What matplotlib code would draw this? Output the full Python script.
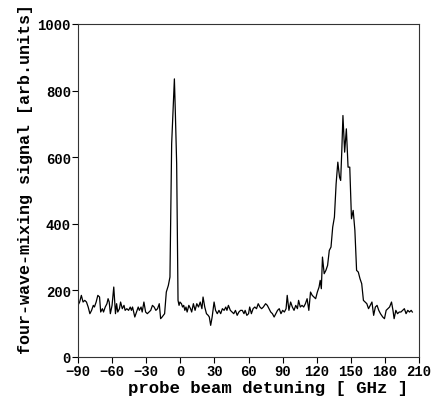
import matplotlib
matplotlib.use("Agg")
import matplotlib.pyplot as plt

# detuning (GHz) and four-wave-mixing signal (arb. units)
detuning = [
    -90, -88.5, -87, -85.5, -84, -82.5, -81, -79.5, -78, -76.5, -75.5, -74,
    -72.5, -71, -70, -68.5, -67.5, -66, -64.5, -63.5, -62.5, -61.5, -60, -58.5,
    -57, -56, -55, -53.5, -52.5, -51, -49.5, -48.5, -47, -45.5, -44, -43, -42,
    -40, -38.5, -37, -36, -34.5, -33.5, -32, -30.5, -29, -27.5, -26, -24.5,
    -23, -21.5, -20, -18.5, -17.3, -16, -14.9, -13.8, -12.3, -10.5, -9.1, -7.6,
    -6.4, -5.2, -4.4, -3.2, -2.0, -1.1, -0.3, 1, 2, 3, 4, 5, 6, 7.5, 9, 10,
    11.5, 13, 14.5, 16, 17.5, 19, 20, 21.5, 23, 24.5, 25.5, 26.7, 28, 29.7, 31,
    32.5, 34, 35.5, 37, 38.5, 40, 41, 42.3, 44, 45.5, 47, 48.5, 50, 51.5, 53,
    54.5, 56, 57, 58.5, 60, 61, 62.5, 64, 65.5, 67, 68.5, 70, 71.5, 73, 75,
    76.5, 78, 79.5, 81, 82.5, 84, 85.5, 87, 88.5, 90, 91.5, 93, 94, 95.5, 97,
    98.5, 100, 101.5, 103, 104, 105.5, 107, 108.5, 110, 111.5, 113, 114.5, 116,
    117.5, 119, 120.5, 122, 123, 124, 125, 126.5, 128, 129.5, 131, 132.5, 134,
    135.5, 137, 138.5, 140, 141, 142, 143, 144.5, 146, 147.5, 149, 150.5, 152,
    153.5, 155, 156.5, 158, 159.5, 161, 162.5, 164, 165.5, 167, 168.5, 170,
    171.5, 173, 174.5, 176, 178, 179.5, 181, 182.5, 184, 185.7, 187, 188,
    189.5, 191, 192.5, 194, 195.5, 197, 198.5, 200, 201.5, 203, 204,
]
signal = [
    155, 165, 185, 165, 170, 165, 150, 130, 140, 155, 150, 165,
    185, 180, 135, 145, 135, 150, 160, 175, 165, 130, 155, 210,
    130, 160, 135, 145, 165, 145, 155, 140, 145, 140, 150, 140, 150,
    120, 135, 150, 140, 150, 135, 165, 135, 130, 135, 140, 155,
    150, 140, 145, 160, 115, 120, 125, 130, 195, 215, 240, 640,
    740, 835, 740, 580, 170, 155, 165, 160, 150, 155, 140, 150, 135, 155, 145, 135,
    160, 140, 160, 150, 165, 145, 180, 150, 130, 125, 120, 95, 120, 165, 140,
    130, 140, 130, 145, 140, 150, 140, 155, 140, 135, 130, 140, 125, 135, 140,
    140, 130, 140, 125, 130, 150, 130, 145, 150, 145, 160, 150, 145, 150, 160,
    155, 145, 135, 130, 120, 130, 140, 145, 130, 140, 135, 145, 185, 140, 165,
    150, 140, 155, 145, 170, 150, 155, 150, 160, 175, 140, 195, 185,
    180, 175, 195, 210, 230, 205, 300, 250, 260, 275, 320, 330, 390,
    420, 520, 585, 540, 530, 620, 725, 615, 685, 570, 570, 415, 440,
    380, 260, 255, 235, 220, 170, 165, 160, 145, 155, 165, 125,
    150, 155, 140, 130, 120, 115, 140, 145, 150, 165, 140, 115,
    140, 130, 135, 135, 140, 145, 130, 140, 135, 140, 135,
]

x_ticks = list(range(-90, 211, 30))
y_ticks = list(range(0, 1001, 200))

plt.rcParams["font.family"] = "Liberation Mono"

fig = plt.figure(figsize=(4.33, 4.02), dpi=100)
ax = fig.add_axes([0.180, 0.1095, 0.788, 0.8285])

ax.plot(detuning, signal, color="black", linewidth=0.9)

ax.set_xlim(-90, 210)
ax.set_ylim(0, 1000)
ax.set_xticks(x_ticks)
ax.set_yticks(y_ticks)
ax.tick_params(direction="out", length=4, width=0.8, labelsize=10, pad=1)
for lbl in ax.get_xticklabels() + ax.get_yticklabels():
    lbl.set_fontweight("bold")

ax.set_xlabel("probe beam detuning [ GHz ]", fontsize=12.5, fontweight="bold")
ax.set_ylabel("four-wave-mixing signal [arb.units]", fontsize=12,
              fontweight="bold")
# the original labels sit a little off-centre
ax.xaxis.set_label_coords(0.557, -0.068, transform=ax.transAxes)
ax.yaxis.set_label_coords(-0.132, 0.5375, transform=ax.transAxes)
ax.xaxis.label.set_va("top")

for spine in ax.spines.values():
    spine.set_linewidth(0.8)
    spine.set_color("#333333")

fig.savefig("out.png", dpi=100)
